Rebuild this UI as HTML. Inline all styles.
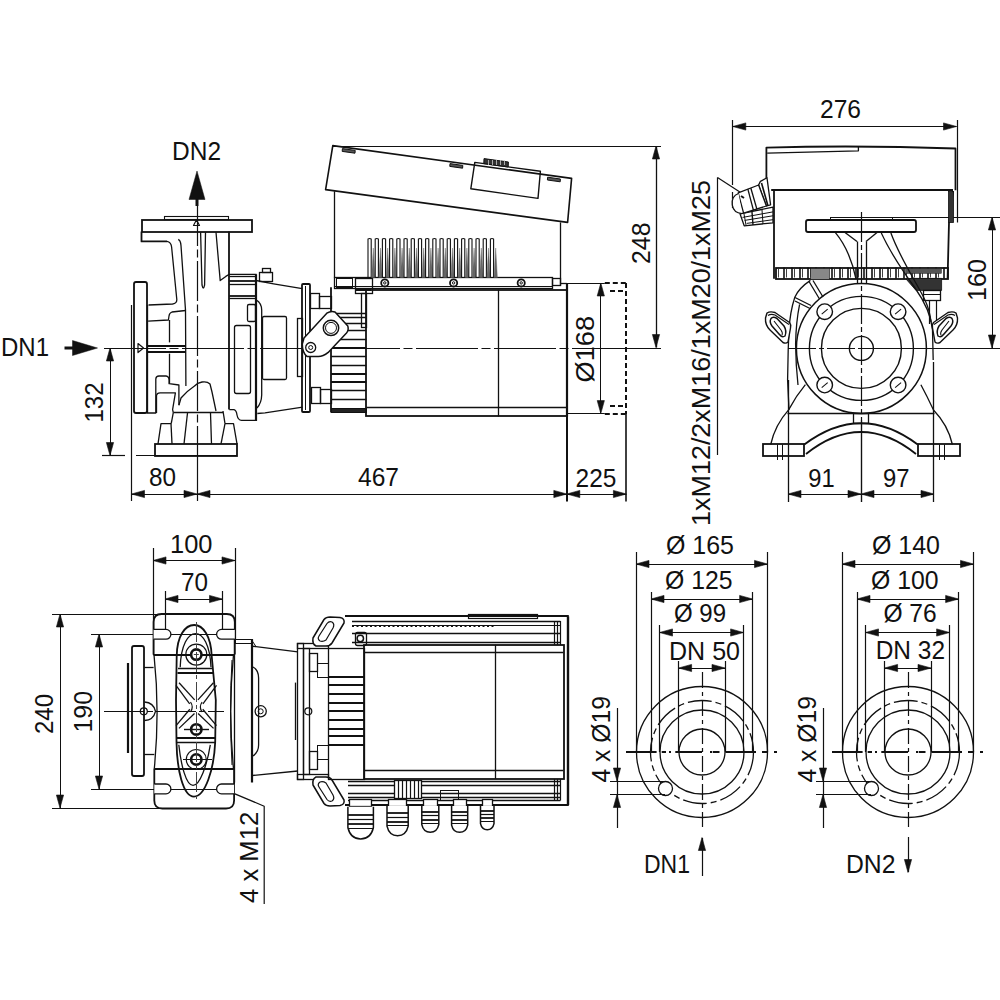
<!DOCTYPE html>
<html><head><meta charset="utf-8"><style>
html,body{margin:0;padding:0;background:#fff;}
svg{display:block;}
text{font-family:"Liberation Sans",sans-serif;fill:#111;}
</style></head><body>
<svg width="1000" height="1000" viewBox="0 0 1000 1000">
<rect width="1000" height="1000" fill="#fff"/>
<text x="172" y="159.5" font-size="26" textLength="49" lengthAdjust="spacingAndGlyphs">DN2</text>
<polygon points="197,171 189,199.5 205,199.5" fill="#111" stroke="#111" stroke-width="0.5" stroke-linejoin="round"/>
<line x1="197" y1="199" x2="197" y2="206" stroke="#111" stroke-width="3"/>
<text x="1" y="356" font-size="26" textLength="48" lengthAdjust="spacingAndGlyphs">DN1</text>
<polygon points="97.5,348 72.5,340.5 72.5,355.5" fill="#111" stroke="#111" stroke-width="0.5" stroke-linejoin="round"/>
<line x1="64.5" y1="348" x2="73" y2="348" stroke="#111" stroke-width="3"/>
<line x1="104" y1="348.5" x2="661" y2="348.5" stroke="#111" stroke-width="1.2" stroke-dasharray="62 3.5 9 3.5"/>
<line x1="197.5" y1="206" x2="197.5" y2="455" stroke="#111" stroke-width="1.2" stroke-dasharray="40 3.5 8 3.5"/>
<line x1="197.5" y1="455" x2="197.5" y2="501" stroke="#111" stroke-width="1.2"/>
<line x1="110.5" y1="348" x2="110.5" y2="455.5" stroke="#111" stroke-width="1.0"/>
<polygon points="110,348 106.4,361 113.6,361" fill="#111" stroke="#111" stroke-width="0.6"/>
<polygon points="110,455.5 106.4,442.5 113.6,442.5" fill="#111" stroke="#111" stroke-width="0.6"/>
<text transform="translate(102.5,422.5) rotate(-90)" x="0" y="0" font-size="26" textLength="40" lengthAdjust="spacingAndGlyphs">132</text>
<line x1="102" y1="455.5" x2="125" y2="455.5" stroke="#111" stroke-width="1.2"/>
<line x1="136" y1="455.5" x2="237" y2="455.5" stroke="#111" stroke-width="1.2"/>
<line x1="131.5" y1="440" x2="131.5" y2="501" stroke="#111" stroke-width="1.2"/>
<line x1="131.5" y1="494.5" x2="197" y2="494.5" stroke="#111" stroke-width="1.0"/>
<polygon points="131.5,494 144.5,490.4 144.5,497.6" fill="#111" stroke="#111" stroke-width="0.6"/>
<polygon points="197,494 184,490.4 184,497.6" fill="#111" stroke="#111" stroke-width="0.6"/>
<text x="149" y="486" font-size="26" textLength="27" lengthAdjust="spacingAndGlyphs">80</text>
<line x1="197" y1="494.5" x2="566.8" y2="494.5" stroke="#111" stroke-width="1.0"/>
<polygon points="197,494 210,490.4 210,497.6" fill="#111" stroke="#111" stroke-width="0.6"/>
<polygon points="566.8,494 553.8,490.4 553.8,497.6" fill="#111" stroke="#111" stroke-width="0.6"/>
<text x="358" y="486" font-size="26" textLength="41" lengthAdjust="spacingAndGlyphs">467</text>
<line x1="566.8" y1="494.5" x2="626.4" y2="494.5" stroke="#111" stroke-width="1.0"/>
<polygon points="566.8,494 579.8,490.4 579.8,497.6" fill="#111" stroke="#111" stroke-width="0.6"/>
<polygon points="626.4,494 613.4,490.4 613.4,497.6" fill="#111" stroke="#111" stroke-width="0.6"/>
<text x="575.6" y="486.8" font-size="26" textLength="40.8" lengthAdjust="spacingAndGlyphs">225</text>
<line x1="567" y1="283" x2="567" y2="501.6" stroke="#111" stroke-width="2"/>
<line x1="626" y1="414" x2="626" y2="501.6" stroke="#111" stroke-width="1.6"/>
<line x1="626" y1="283" x2="626" y2="414" stroke="#111" stroke-width="2" stroke-dasharray="5 3"/>
<line x1="332.8" y1="146.5" x2="661" y2="146.5" stroke="#111" stroke-width="1.2"/>
<line x1="656.5" y1="146" x2="656.5" y2="347.5" stroke="#111" stroke-width="1.3"/>
<polygon points="656,146 652.4,159 659.6,159" fill="#111" stroke="#111" stroke-width="0.6"/>
<polygon points="656,347.5 652.4,334.5 659.6,334.5" fill="#111" stroke="#111" stroke-width="0.6"/>
<text transform="translate(650,264) rotate(-90)" x="0" y="0" font-size="26" textLength="41.5" lengthAdjust="spacingAndGlyphs">248</text>
<line x1="623" y1="348.5" x2="661" y2="348.5" stroke="#111" stroke-width="1.2"/>
<line x1="600.5" y1="283" x2="600.5" y2="413.6" stroke="#111" stroke-width="1.0"/>
<polygon points="600.8,283 597.2,296 604.4,296" fill="#111" stroke="#111" stroke-width="0.6"/>
<polygon points="600.8,413.6 597.2,400.6 604.4,400.6" fill="#111" stroke="#111" stroke-width="0.6"/>
<text transform="translate(594.4,382.4) rotate(-90)" x="0" y="0" font-size="26" textLength="66.4" lengthAdjust="spacingAndGlyphs">Ø168</text>
<line x1="566.8" y1="283.5" x2="604.8" y2="283.5" stroke="#111" stroke-width="1.2"/>
<line x1="604.8" y1="283" x2="626.4" y2="283" stroke="#111" stroke-width="2" stroke-dasharray="5 3"/>
<line x1="610" y1="291" x2="626" y2="291" stroke="#111" stroke-width="2" stroke-dasharray="5 3"/>
<line x1="566.8" y1="413.5" x2="604.8" y2="413.5" stroke="#111" stroke-width="1.2"/>
<line x1="604.8" y1="414" x2="626.4" y2="414" stroke="#111" stroke-width="2" stroke-dasharray="5 3"/>
<line x1="610" y1="406" x2="626" y2="406" stroke="#111" stroke-width="2" stroke-dasharray="5 3"/>
<text x="820" y="118" font-size="26" textLength="41" lengthAdjust="spacingAndGlyphs">276</text>
<line x1="732.8" y1="126.5" x2="956.5" y2="126.5" stroke="#111" stroke-width="1.0"/>
<polygon points="732.8,126.5 745.8,122.9 745.8,130.1" fill="#111" stroke="#111" stroke-width="0.6"/>
<polygon points="956.5,126.5 943.5,122.9 943.5,130.1" fill="#111" stroke="#111" stroke-width="0.6"/>
<line x1="732.5" y1="120" x2="732.5" y2="185" stroke="#111" stroke-width="1.2"/>
<line x1="732.5" y1="192" x2="732.5" y2="208" stroke="#111" stroke-width="1.2"/>
<line x1="957.5" y1="120" x2="957.5" y2="222.5" stroke="#111" stroke-width="1.2"/>
<line x1="992.5" y1="217" x2="992.5" y2="348" stroke="#111" stroke-width="1.0"/>
<polygon points="992,217 988.4,230 995.6,230" fill="#111" stroke="#111" stroke-width="0.6"/>
<polygon points="992,348 988.4,335 995.6,335" fill="#111" stroke="#111" stroke-width="0.6"/>
<text transform="translate(986,301) rotate(-90)" x="0" y="0" font-size="26" textLength="42" lengthAdjust="spacingAndGlyphs">160</text>
<line x1="862" y1="348.5" x2="1000" y2="348.5" stroke="#111" stroke-width="1.2"/>
<line x1="830" y1="217.5" x2="1000" y2="217.5" stroke="#111" stroke-width="1.2"/>
<line x1="788" y1="494.5" x2="861" y2="494.5" stroke="#111" stroke-width="1.0"/>
<polygon points="788,494 801,490.4 801,497.6" fill="#111" stroke="#111" stroke-width="0.6"/>
<polygon points="861,494 848,490.4 848,497.6" fill="#111" stroke="#111" stroke-width="0.6"/>
<text x="808.3" y="486.6" font-size="26" textLength="26.4" lengthAdjust="spacingAndGlyphs">91</text>
<line x1="861" y1="494.5" x2="934" y2="494.5" stroke="#111" stroke-width="1.0"/>
<polygon points="861,494 874,490.4 874,497.6" fill="#111" stroke="#111" stroke-width="0.6"/>
<polygon points="934,494 921,490.4 921,497.6" fill="#111" stroke="#111" stroke-width="0.6"/>
<text x="883" y="486.6" font-size="26" textLength="26.5" lengthAdjust="spacingAndGlyphs">97</text>
<line x1="788.5" y1="380" x2="788.5" y2="502" stroke="#111" stroke-width="1.3"/>
<line x1="861.5" y1="420" x2="861.5" y2="502" stroke="#111" stroke-width="1.2"/>
<line x1="933.5" y1="362" x2="933.5" y2="502" stroke="#111" stroke-width="1.3"/>
<text transform="translate(710,526) rotate(-90)" x="0" y="0" font-size="26" textLength="346" lengthAdjust="spacingAndGlyphs">1xM12/2xM16/1xM20/1xM25</text>
<line x1="717.5" y1="177.5" x2="717.5" y2="455" stroke="#111" stroke-width="1.2"/>
<line x1="717.5" y1="177.5" x2="746" y2="196" stroke="#111" stroke-width="1.2"/>
<text x="170" y="552.5" font-size="26" textLength="42.5" lengthAdjust="spacingAndGlyphs">100</text>
<line x1="153" y1="560.5" x2="235" y2="560.5" stroke="#111" stroke-width="1.0"/>
<polygon points="153,560.5 166,556.9 166,564.1" fill="#111" stroke="#111" stroke-width="0.6"/>
<polygon points="235,560.5 222,556.9 222,564.1" fill="#111" stroke="#111" stroke-width="0.6"/>
<line x1="153.5" y1="548" x2="153.5" y2="655" stroke="#111" stroke-width="1.2"/>
<line x1="235.5" y1="548" x2="235.5" y2="640" stroke="#111" stroke-width="1.2"/>
<text x="181" y="591" font-size="26" textLength="27" lengthAdjust="spacingAndGlyphs">70</text>
<line x1="165" y1="599.5" x2="222.5" y2="599.5" stroke="#111" stroke-width="1.0"/>
<polygon points="165,599 178,595.4 178,602.6" fill="#111" stroke="#111" stroke-width="0.6"/>
<polygon points="222.5,599 209.5,595.4 209.5,602.6" fill="#111" stroke="#111" stroke-width="0.6"/>
<line x1="165.5" y1="591" x2="165.5" y2="635" stroke="#111" stroke-width="1.2"/>
<line x1="222.5" y1="591" x2="222.5" y2="635" stroke="#111" stroke-width="1.2"/>
<line x1="60.5" y1="614" x2="60.5" y2="808" stroke="#111" stroke-width="1.0"/>
<polygon points="60,614 56.4,627 63.6,627" fill="#111" stroke="#111" stroke-width="0.6"/>
<polygon points="60,808 56.4,795 63.6,795" fill="#111" stroke="#111" stroke-width="0.6"/>
<text transform="translate(53,734) rotate(-90)" x="0" y="0" font-size="26" textLength="40" lengthAdjust="spacingAndGlyphs">240</text>
<line x1="52" y1="614.5" x2="230" y2="614.5" stroke="#111" stroke-width="1.2"/>
<line x1="52" y1="808.5" x2="160" y2="808.5" stroke="#111" stroke-width="1.2"/>
<line x1="99.5" y1="634" x2="99.5" y2="789" stroke="#111" stroke-width="1.0"/>
<polygon points="99,634 95.4,647 102.6,647" fill="#111" stroke="#111" stroke-width="0.6"/>
<polygon points="99,789 95.4,776 102.6,776" fill="#111" stroke="#111" stroke-width="0.6"/>
<text transform="translate(91.5,732.5) rotate(-90)" x="0" y="0" font-size="26" textLength="41.5" lengthAdjust="spacingAndGlyphs">190</text>
<line x1="91" y1="634.5" x2="230" y2="634.5" stroke="#111" stroke-width="1.2"/>
<line x1="91" y1="789.5" x2="230" y2="789.5" stroke="#111" stroke-width="1.2"/>
<polyline points="222.4,788.6 264.2,806.2 264.2,904" fill="none" stroke="#111" stroke-width="1.2" stroke-linejoin="round"/>
<text transform="translate(257.6,903) rotate(-90)" x="0" y="0" font-size="26" textLength="91.3" lengthAdjust="spacingAndGlyphs">4 x M12</text>
<text x="666" y="554" font-size="26" textLength="68" lengthAdjust="spacingAndGlyphs">Ø 165</text>
<line x1="636" y1="564.5" x2="767.5" y2="564.5" stroke="#111" stroke-width="1.0"/>
<polygon points="636,564 649,560.4 649,567.6" fill="#111" stroke="#111" stroke-width="0.6"/>
<polygon points="767.5,564 754.5,560.4 754.5,567.6" fill="#111" stroke="#111" stroke-width="0.6"/>
<text x="665" y="589" font-size="26" textLength="67.5" lengthAdjust="spacingAndGlyphs">Ø 125</text>
<line x1="651" y1="599.5" x2="752.6" y2="599.5" stroke="#111" stroke-width="1.0"/>
<polygon points="651,599 664,595.4 664,602.6" fill="#111" stroke="#111" stroke-width="0.6"/>
<polygon points="752.6,599 739.6,595.4 739.6,602.6" fill="#111" stroke="#111" stroke-width="0.6"/>
<text x="674" y="622" font-size="26" textLength="52" lengthAdjust="spacingAndGlyphs">Ø 99</text>
<line x1="659.5" y1="632.5" x2="743.6" y2="632.5" stroke="#111" stroke-width="1.0"/>
<polygon points="659.5,632.5 672.5,628.9 672.5,636.1" fill="#111" stroke="#111" stroke-width="0.6"/>
<polygon points="743.6,632.5 730.6,628.9 730.6,636.1" fill="#111" stroke="#111" stroke-width="0.6"/>
<text x="669" y="659.5" font-size="26" textLength="71" lengthAdjust="spacingAndGlyphs">DN 50</text>
<line x1="678.6" y1="668.5" x2="725" y2="668.5" stroke="#111" stroke-width="1.0"/>
<polygon points="678.6,668 691.6,664.4 691.6,671.6" fill="#111" stroke="#111" stroke-width="0.6"/>
<polygon points="725,668 712,664.4 712,671.6" fill="#111" stroke="#111" stroke-width="0.6"/>
<line x1="636.5" y1="552" x2="636.5" y2="752" stroke="#111" stroke-width="1.2"/>
<line x1="767.5" y1="552" x2="767.5" y2="752" stroke="#111" stroke-width="1.2"/>
<line x1="651.5" y1="592" x2="651.5" y2="752" stroke="#111" stroke-width="1.2"/>
<line x1="752.5" y1="592" x2="752.5" y2="752" stroke="#111" stroke-width="1.2"/>
<line x1="659.5" y1="625" x2="659.5" y2="752" stroke="#111" stroke-width="1.2"/>
<line x1="743.5" y1="625" x2="743.5" y2="752" stroke="#111" stroke-width="1.2"/>
<line x1="678.5" y1="661" x2="678.5" y2="752" stroke="#111" stroke-width="1.2"/>
<line x1="725.5" y1="661" x2="725.5" y2="752" stroke="#111" stroke-width="1.2"/>
<circle cx="702" cy="752" r="65.5" fill="none" stroke="#111" stroke-width="1.3"/>
<circle cx="702" cy="752" r="51.5" fill="none" stroke="#111" stroke-width="1.3" stroke-dasharray="24 4 6 4"/>
<circle cx="702" cy="752" r="42" fill="none" stroke="#111" stroke-width="1.3"/>
<circle cx="702" cy="752" r="23" fill="none" stroke="#111" stroke-width="1.3"/>
<circle cx="665.5" cy="788.5" r="7" fill="#fff" stroke="#111" stroke-width="1.3"/>
<line x1="626" y1="752" x2="656.6" y2="752" stroke="#111" stroke-width="2.0"/>
<line x1="661.7" y1="752" x2="666" y2="752" stroke="#111" stroke-width="2.0"/>
<line x1="669" y1="752" x2="671" y2="752" stroke="#111" stroke-width="2.0"/>
<line x1="675.3" y1="752" x2="702" y2="752" stroke="#111" stroke-width="2.0"/>
<line x1="702" y1="752" x2="701.9" y2="752" stroke="#111" stroke-width="2.0"/>
<line x1="710" y1="752" x2="712" y2="752" stroke="#111" stroke-width="2.0"/>
<line x1="712.7" y1="752" x2="719.5" y2="752" stroke="#111" stroke-width="2.0"/>
<line x1="725.4" y1="752" x2="756" y2="752" stroke="#111" stroke-width="2.0"/>
<line x1="762" y1="752" x2="768" y2="752" stroke="#111" stroke-width="2.0"/>
<line x1="774" y1="752" x2="777" y2="752" stroke="#111" stroke-width="2.0"/>
<line x1="702.5" y1="672" x2="702.5" y2="827" stroke="#111" stroke-width="1.2" stroke-dasharray="16 4 4 4"/>
<line x1="617.5" y1="708" x2="617.5" y2="828" stroke="#111" stroke-width="1.2"/>
<polygon points="617,781 613.4,768 620.6,768" fill="#111" stroke="#111" stroke-width="0.6"/>
<polygon points="617,794.5 613.4,807.5 620.6,807.5" fill="#111" stroke="#111" stroke-width="0.6"/>
<line x1="610" y1="781.5" x2="665" y2="781.5" stroke="#111" stroke-width="1.2"/>
<line x1="610" y1="794.5" x2="665" y2="794.5" stroke="#111" stroke-width="1.2"/>
<text transform="translate(610,782.5) rotate(-90)" x="0" y="0" font-size="26" textLength="86.5" lengthAdjust="spacingAndGlyphs">4 x Ø19</text>
<text x="872" y="554" font-size="26" textLength="68" lengthAdjust="spacingAndGlyphs">Ø 140</text>
<line x1="842" y1="564.5" x2="973.5" y2="564.5" stroke="#111" stroke-width="1.0"/>
<polygon points="842,564 855,560.4 855,567.6" fill="#111" stroke="#111" stroke-width="0.6"/>
<polygon points="973.5,564 960.5,560.4 960.5,567.6" fill="#111" stroke="#111" stroke-width="0.6"/>
<text x="871" y="589" font-size="26" textLength="67.5" lengthAdjust="spacingAndGlyphs">Ø 100</text>
<line x1="857" y1="599.5" x2="958.6" y2="599.5" stroke="#111" stroke-width="1.0"/>
<polygon points="857,599 870,595.4 870,602.6" fill="#111" stroke="#111" stroke-width="0.6"/>
<polygon points="958.6,599 945.6,595.4 945.6,602.6" fill="#111" stroke="#111" stroke-width="0.6"/>
<text x="883.4" y="622.3" font-size="26" textLength="53.3" lengthAdjust="spacingAndGlyphs">Ø 76</text>
<line x1="865.5" y1="632.5" x2="949.6" y2="632.5" stroke="#111" stroke-width="1.0"/>
<polygon points="865.5,632.5 878.5,628.9 878.5,636.1" fill="#111" stroke="#111" stroke-width="0.6"/>
<polygon points="949.6,632.5 936.6,628.9 936.6,636.1" fill="#111" stroke="#111" stroke-width="0.6"/>
<text x="875.7" y="659" font-size="26" textLength="69.3" lengthAdjust="spacingAndGlyphs">DN 32</text>
<line x1="884.6" y1="668.5" x2="931" y2="668.5" stroke="#111" stroke-width="1.0"/>
<polygon points="884.6,668 897.6,664.4 897.6,671.6" fill="#111" stroke="#111" stroke-width="0.6"/>
<polygon points="931,668 918,664.4 918,671.6" fill="#111" stroke="#111" stroke-width="0.6"/>
<line x1="842.5" y1="552" x2="842.5" y2="752" stroke="#111" stroke-width="1.2"/>
<line x1="973.5" y1="552" x2="973.5" y2="752" stroke="#111" stroke-width="1.2"/>
<line x1="857.5" y1="592" x2="857.5" y2="752" stroke="#111" stroke-width="1.2"/>
<line x1="958.5" y1="592" x2="958.5" y2="752" stroke="#111" stroke-width="1.2"/>
<line x1="865.5" y1="625" x2="865.5" y2="752" stroke="#111" stroke-width="1.2"/>
<line x1="949.5" y1="625" x2="949.5" y2="752" stroke="#111" stroke-width="1.2"/>
<line x1="884.5" y1="661" x2="884.5" y2="752" stroke="#111" stroke-width="1.2"/>
<line x1="931.5" y1="661" x2="931.5" y2="752" stroke="#111" stroke-width="1.2"/>
<circle cx="908" cy="752" r="65.5" fill="none" stroke="#111" stroke-width="1.3"/>
<circle cx="908" cy="752" r="51.5" fill="none" stroke="#111" stroke-width="1.3" stroke-dasharray="24 4 6 4"/>
<circle cx="908" cy="752" r="42" fill="none" stroke="#111" stroke-width="1.3"/>
<circle cx="908" cy="752" r="23" fill="none" stroke="#111" stroke-width="1.3"/>
<circle cx="871.5" cy="788.5" r="7" fill="#fff" stroke="#111" stroke-width="1.3"/>
<line x1="832" y1="752" x2="862.6" y2="752" stroke="#111" stroke-width="2.0"/>
<line x1="867.7" y1="752" x2="872" y2="752" stroke="#111" stroke-width="2.0"/>
<line x1="875" y1="752" x2="877" y2="752" stroke="#111" stroke-width="2.0"/>
<line x1="881.3" y1="752" x2="908" y2="752" stroke="#111" stroke-width="2.0"/>
<line x1="908" y1="752" x2="907.9" y2="752" stroke="#111" stroke-width="2.0"/>
<line x1="916" y1="752" x2="918" y2="752" stroke="#111" stroke-width="2.0"/>
<line x1="918.7" y1="752" x2="925.5" y2="752" stroke="#111" stroke-width="2.0"/>
<line x1="931.4" y1="752" x2="962" y2="752" stroke="#111" stroke-width="2.0"/>
<line x1="968" y1="752" x2="974" y2="752" stroke="#111" stroke-width="2.0"/>
<line x1="980" y1="752" x2="983" y2="752" stroke="#111" stroke-width="2.0"/>
<line x1="908.5" y1="672" x2="908.5" y2="827" stroke="#111" stroke-width="1.2" stroke-dasharray="16 4 4 4"/>
<line x1="823.5" y1="708" x2="823.5" y2="828" stroke="#111" stroke-width="1.2"/>
<polygon points="823,781 819.4,768 826.6,768" fill="#111" stroke="#111" stroke-width="0.6"/>
<polygon points="823,794.5 819.4,807.5 826.6,807.5" fill="#111" stroke="#111" stroke-width="0.6"/>
<line x1="816" y1="781.5" x2="871" y2="781.5" stroke="#111" stroke-width="1.2"/>
<line x1="816" y1="794.5" x2="871" y2="794.5" stroke="#111" stroke-width="1.2"/>
<text transform="translate(816,782.5) rotate(-90)" x="0" y="0" font-size="26" textLength="86.5" lengthAdjust="spacingAndGlyphs">4 x Ø19</text>
<line x1="702.5" y1="838" x2="702.5" y2="876" stroke="#111" stroke-width="1.2"/>
<polygon points="702,837.5 698.4,850.5 705.6,850.5" fill="#111" stroke="#111" stroke-width="0.6"/>
<text x="644" y="873" font-size="26" textLength="46" lengthAdjust="spacingAndGlyphs">DN1</text>
<line x1="908.5" y1="837" x2="908.5" y2="872" stroke="#111" stroke-width="1.2"/>
<polygon points="908,872.5 904.4,859.5 911.6,859.5" fill="#111" stroke="#111" stroke-width="0.6"/>
<text x="846" y="873" font-size="26" textLength="49.5" lengthAdjust="spacingAndGlyphs">DN2</text>
<rect x="142" y="220" width="110" height="12" fill="none" stroke="#111" stroke-width="1.8"/>
<rect x="164.5" y="216.5" width="64" height="3" fill="none" stroke="#111" stroke-width="1.1"/>
<polyline points="141.5,231.6 141.5,241.4 167,241.4" fill="none" stroke="#111" stroke-width="1.8" stroke-linejoin="round"/>
<path d="M167,241.4 Q171,242 171.6,247 L176.8,299.5 Q177,303.5 172.6,304 L148.5,305" fill="none" stroke="#111" stroke-width="1.3" stroke-linejoin="round"/>
<path d="M178.2,239.5 Q180.5,240 181,245.6 L185.5,310 L185.9,386" fill="none" stroke="#111" stroke-width="1.3" stroke-linejoin="round"/>
<path d="M185.5,310.5 L172,312 Q169.3,313 169,316 L168.4,320 L148.1,321.2" fill="none" stroke="#111" stroke-width="1.3" stroke-linejoin="round"/>
<line x1="169.5" y1="320" x2="169.5" y2="342.4" stroke="#111" stroke-width="1.3"/>
<line x1="169.5" y1="353.6" x2="169.5" y2="383.7" stroke="#111" stroke-width="1.3"/>
<path d="M200.6,232.3 L202,285 Q203.3,291 204.6,285 L205.5,232.3" fill="none" stroke="#111" stroke-width="1.3" stroke-linejoin="round"/>
<path d="M216,232.3 L220.2,280.6 L225.8,276.4 L229.3,274.3 L256.6,274.3" fill="none" stroke="#111" stroke-width="1.3" stroke-linejoin="round"/>
<line x1="229" y1="231.6" x2="229" y2="409.6" stroke="#111" stroke-width="1.8"/>
<rect x="134" y="282" width="13" height="131" rx="2" fill="none" stroke="#111" stroke-width="1.8"/>
<line x1="147.5" y1="305" x2="147.5" y2="413" stroke="#111" stroke-width="1.3"/>
<line x1="147.4" y1="346" x2="185.9" y2="346" stroke="#111" stroke-width="1.8"/>
<line x1="147.4" y1="352" x2="185.9" y2="352" stroke="#111" stroke-width="1.8"/>
<polygon points="138,343.5 143.5,348 138,352.5" fill="none" stroke="#111" stroke-width="1.2" stroke-linejoin="round"/>
<polygon points="193.5,225.5 196.5,219.8 199.5,225.5" fill="none" stroke="#111" stroke-width="1.2" stroke-linejoin="round"/>
<path d="M146.7,413 L155.8,413 L155.8,379 Q156,376 159,376 L166,376 Q169,376.5 169.1,380 L169.1,383.7 L178.9,385 L178.9,405" fill="none" stroke="#111" stroke-width="1.3" stroke-linejoin="round"/>
<path d="M156.5,413 L156.5,395.5 Q157,392.8 160,392.8 L175.4,392.8 L172.6,409.6 L173.3,412.7" fill="none" stroke="#111" stroke-width="1.3" stroke-linejoin="round"/>
<path d="M178.9,405.4 L181,398 C186,392 190,389 194.5,386 C198,382 206,380 210,384 L212,392 L216,411" fill="none" stroke="#111" stroke-width="1.3" stroke-linejoin="round"/>
<line x1="173.3" y1="412.5" x2="223" y2="412.5" stroke="#111" stroke-width="1.3"/>
<rect x="155" y="444" width="82" height="12" fill="none" stroke="#111" stroke-width="1.8"/>
<line x1="172" y1="443.9" x2="171" y2="423.6" stroke="#111" stroke-width="1.3"/>
<line x1="184" y1="443.9" x2="187.5" y2="413" stroke="#111" stroke-width="1.3"/>
<line x1="211.5" y1="443.9" x2="210.5" y2="413" stroke="#111" stroke-width="1.3"/>
<line x1="221" y1="443.9" x2="225" y2="423.6" stroke="#111" stroke-width="1.3"/>
<polyline points="158,443.9 161,423.6 171.2,423.6" fill="none" stroke="#111" stroke-width="1.3" stroke-linejoin="round"/>
<polyline points="225,423.6 233.5,423.6 237,443.9" fill="none" stroke="#111" stroke-width="1.3" stroke-linejoin="round"/>
<line x1="171.2" y1="423.6" x2="173.3" y2="412.7" stroke="#111" stroke-width="1.3"/>
<line x1="223" y1="411" x2="225" y2="423.6" stroke="#111" stroke-width="1.3"/>
<line x1="131.5" y1="305" x2="131.5" y2="440" stroke="#111" stroke-width="1.2"/>
<path d="M229.3,409.6 L234,409.6 Q236.5,410.5 237,415 Q238,420.3 241.5,420.3 L257,420.3" fill="none" stroke="#111" stroke-width="1.3" stroke-linejoin="round"/>
<line x1="256" y1="274.3" x2="256" y2="420.8" stroke="#111" stroke-width="2.2"/>
<line x1="229.3" y1="276.5" x2="256.1" y2="276.5" stroke="#111" stroke-width="1.3"/>
<line x1="229.3" y1="281" x2="256.1" y2="281" stroke="#111" stroke-width="1.8"/>
<line x1="229.3" y1="284.5" x2="256.1" y2="284.5" stroke="#111" stroke-width="1.3"/>
<line x1="229.3" y1="296" x2="256.1" y2="296" stroke="#111" stroke-width="1.8"/>
<line x1="229.3" y1="298.5" x2="256.1" y2="298.5" stroke="#111" stroke-width="1.3"/>
<rect x="234.5" y="325.5" width="16" height="68" rx="2" fill="none" stroke="#111" stroke-width="1.3"/>
<rect x="247.5" y="304.5" width="8" height="17" rx="1.5" fill="none" stroke="#111" stroke-width="1.3"/>
<rect x="259.5" y="272.5" width="13" height="9" fill="none" stroke="#111" stroke-width="1.3"/>
<rect x="262.5" y="268.5" width="8" height="4" fill="none" stroke="#111" stroke-width="1.3"/>
<polyline points="256.1,280.5 273.6,283.8 302.3,288.7" fill="none" stroke="#111" stroke-width="1.3" stroke-linejoin="round"/>
<polyline points="257.3,413.5 265,412.8 302.6,407.2" fill="none" stroke="#111" stroke-width="1.3" stroke-linejoin="round"/>
<path d="M256.3,300 Q261.5,303 261.7,310 L261.7,395 Q261.5,403 257,408" fill="none" stroke="#111" stroke-width="1.3" stroke-linejoin="round"/>
<rect x="262.5" y="316.5" width="24" height="63" rx="1.5" fill="none" stroke="#111" stroke-width="1.3"/>
<rect x="302" y="284" width="8" height="128" rx="1" fill="none" stroke="#111" stroke-width="1.8"/>
<line x1="305.5" y1="286" x2="305.5" y2="410" stroke="#111" stroke-width="1.0"/>
<rect x="297.5" y="318.5" width="5" height="58" fill="none" stroke="#111" stroke-width="1.3"/>
<rect x="310.5" y="293.5" width="9" height="15" fill="none" stroke="#111" stroke-width="1.3"/>
<rect x="311.5" y="387.5" width="9" height="16" fill="none" stroke="#111" stroke-width="1.3"/>
<rect x="319.5" y="296.5" width="12" height="12" fill="none" stroke="#111" stroke-width="1.3"/>
<rect x="320.5" y="389.5" width="11" height="14" fill="none" stroke="#111" stroke-width="1.3"/>
<line x1="331" y1="287.3" x2="331" y2="412.5" stroke="#111" stroke-width="1.8"/>
<line x1="331" y1="313.5" x2="366.3" y2="313.5" stroke="#111" stroke-width="1.4"/>
<line x1="331" y1="317.5" x2="366.3" y2="317.5" stroke="#111" stroke-width="1.4"/>
<line x1="331" y1="323.5" x2="366.3" y2="323.5" stroke="#111" stroke-width="1.4"/>
<line x1="331" y1="330.5" x2="366.3" y2="330.5" stroke="#111" stroke-width="1.4"/>
<line x1="331" y1="339.5" x2="366.3" y2="339.5" stroke="#111" stroke-width="1.4"/>
<line x1="331" y1="348" x2="366.3" y2="348" stroke="#111" stroke-width="1.8"/>
<line x1="331" y1="356.5" x2="366.3" y2="356.5" stroke="#111" stroke-width="1.4"/>
<line x1="331" y1="365.5" x2="366.3" y2="365.5" stroke="#111" stroke-width="1.4"/>
<line x1="331" y1="374" x2="366.3" y2="374" stroke="#111" stroke-width="1.8"/>
<line x1="331" y1="382" x2="366.3" y2="382" stroke="#111" stroke-width="1.8"/>
<line x1="331" y1="390.5" x2="366.3" y2="390.5" stroke="#111" stroke-width="1.4"/>
<line x1="331" y1="399.5" x2="366.3" y2="399.5" stroke="#111" stroke-width="1.4"/>
<rect x="331.5" y="408.5" width="35" height="4" fill="#222" stroke="#111" stroke-width="1"/>
<path d="M302.3,344 L304,338 L326.8,313.2 Q331,310.5 335,312 L347.8,326 Q349,330 346.5,333 L328.2,352.4 Q323,356.6 318.4,356.6 L307.2,356.6 Q302.3,353 302.3,344 Z" fill="#fff" stroke="#111" stroke-width="1.5" stroke-linejoin="round"/>
<circle cx="331" cy="327.9" r="7.7" fill="none" stroke="#111" stroke-width="1.5"/>
<circle cx="331" cy="327.9" r="5.5" fill="none" stroke="#111" stroke-width="1.0"/>
<circle cx="310.7" cy="347.5" r="5" fill="none" stroke="#111" stroke-width="1.3"/>
<circle cx="310.7" cy="347.5" r="2" fill="none" stroke="#111" stroke-width="1.0"/>
<rect x="366" y="290" width="201" height="126" fill="none" stroke="#111" stroke-width="1.8"/>
<line x1="366.3" y1="407.5" x2="566.8" y2="407.5" stroke="#111" stroke-width="1.3"/>
<line x1="498.5" y1="289.7" x2="498.5" y2="416.5" stroke="#111" stroke-width="1.3"/>
<line x1="567" y1="283" x2="567" y2="416.5" stroke="#111" stroke-width="2.2"/>
<line x1="560.4" y1="283.5" x2="566.8" y2="283.5" stroke="#111" stroke-width="1.3"/>
<line x1="334.5" y1="191.2" x2="334.5" y2="277.6" stroke="#111" stroke-width="1.3"/>
<line x1="560.5" y1="222.4" x2="560.5" y2="285.6" stroke="#111" stroke-width="1.3"/>
<rect x="334.5" y="277.5" width="218" height="11" fill="none" stroke="#111" stroke-width="1.3"/>
<line x1="334.7" y1="286.5" x2="552.4" y2="286.5" stroke="#111" stroke-width="1.0"/>
<rect x="552.5" y="278.5" width="8" height="7" fill="none" stroke="#111" stroke-width="1.3"/>
<rect x="336.5" y="278.5" width="16" height="9" fill="none" stroke="#111" stroke-width="1.0"/>
<rect x="355.5" y="278.5" width="17" height="15" fill="none" stroke="#111" stroke-width="1.3"/>
<rect x="361.5" y="293.5" width="5" height="34" fill="none" stroke="#111" stroke-width="1.3"/>
<line x1="356" y1="290" x2="371" y2="290" stroke="#111" stroke-width="2"/>
<circle cx="384.8" cy="282.9" r="3.6" fill="#fff" stroke="#111" stroke-width="1.8"/>
<circle cx="384.8" cy="282.9" r="1.2" fill="none" stroke="#111" stroke-width="1.0"/>
<circle cx="453.6" cy="282.9" r="3.6" fill="#fff" stroke="#111" stroke-width="1.8"/>
<circle cx="453.6" cy="282.9" r="1.2" fill="none" stroke="#111" stroke-width="1.0"/>
<circle cx="521.2" cy="282.9" r="3.6" fill="#fff" stroke="#111" stroke-width="1.8"/>
<circle cx="521.2" cy="282.9" r="1.2" fill="none" stroke="#111" stroke-width="1.0"/>
<line x1="390" y1="289" x2="420" y2="289" stroke="#111" stroke-width="1.6"/>
<path d="M368.0,277.6 L368.0,239 Q369.6,238 371.2,239 L371.2,277.6" fill="none" stroke="#111" stroke-width="1.1" stroke-linejoin="round"/>
<polygon points="371.6,277.6 375,277.6 373.3,248" fill="#666" stroke="#666" stroke-width="0.4" stroke-linejoin="round"/>
<path d="M375.2,277.6 L375.2,239 Q376.8,238 378.4,239 L378.4,277.6" fill="none" stroke="#111" stroke-width="1.1" stroke-linejoin="round"/>
<polygon points="378.8,277.6 382.2,277.6 380.5,248" fill="#666" stroke="#666" stroke-width="0.4" stroke-linejoin="round"/>
<path d="M382.4,277.6 L382.4,239 Q384.0,238 385.6,239 L385.6,277.6" fill="none" stroke="#111" stroke-width="1.1" stroke-linejoin="round"/>
<polygon points="386,277.6 389.4,277.6 387.7,248" fill="#666" stroke="#666" stroke-width="0.4" stroke-linejoin="round"/>
<path d="M389.6,277.6 L389.6,239 Q391.2,238 392.8,239 L392.8,277.6" fill="none" stroke="#111" stroke-width="1.1" stroke-linejoin="round"/>
<polygon points="393.2,277.6 396.6,277.6 394.9,248" fill="#666" stroke="#666" stroke-width="0.4" stroke-linejoin="round"/>
<path d="M396.8,277.6 L396.8,239 Q398.4,238 400.0,239 L400.0,277.6" fill="none" stroke="#111" stroke-width="1.1" stroke-linejoin="round"/>
<polygon points="400.4,277.6 403.8,277.6 402.1,248" fill="#666" stroke="#666" stroke-width="0.4" stroke-linejoin="round"/>
<path d="M404.0,277.6 L404.0,239 Q405.6,238 407.2,239 L407.2,277.6" fill="none" stroke="#111" stroke-width="1.1" stroke-linejoin="round"/>
<polygon points="407.6,277.6 411,277.6 409.3,248" fill="#666" stroke="#666" stroke-width="0.4" stroke-linejoin="round"/>
<path d="M411.2,277.6 L411.2,239 Q412.8,238 414.4,239 L414.4,277.6" fill="none" stroke="#111" stroke-width="1.1" stroke-linejoin="round"/>
<polygon points="414.8,277.6 418.2,277.6 416.5,248" fill="#666" stroke="#666" stroke-width="0.4" stroke-linejoin="round"/>
<path d="M418.4,277.6 L418.4,239 Q420.0,238 421.6,239 L421.6,277.6" fill="none" stroke="#111" stroke-width="1.1" stroke-linejoin="round"/>
<polygon points="422,277.6 425.4,277.6 423.7,248" fill="#666" stroke="#666" stroke-width="0.4" stroke-linejoin="round"/>
<path d="M425.6,277.6 L425.6,239 Q427.2,238 428.8,239 L428.8,277.6" fill="none" stroke="#111" stroke-width="1.1" stroke-linejoin="round"/>
<polygon points="429.2,277.6 432.6,277.6 430.9,248" fill="#666" stroke="#666" stroke-width="0.4" stroke-linejoin="round"/>
<path d="M432.8,277.6 L432.8,239 Q434.4,238 436.0,239 L436.0,277.6" fill="none" stroke="#111" stroke-width="1.1" stroke-linejoin="round"/>
<polygon points="436.4,277.6 439.8,277.6 438.1,248" fill="#666" stroke="#666" stroke-width="0.4" stroke-linejoin="round"/>
<path d="M440.0,277.6 L440.0,239 Q441.6,238 443.2,239 L443.2,277.6" fill="none" stroke="#111" stroke-width="1.1" stroke-linejoin="round"/>
<polygon points="443.6,277.6 447,277.6 445.3,248" fill="#666" stroke="#666" stroke-width="0.4" stroke-linejoin="round"/>
<path d="M447.2,277.6 L447.2,239 Q448.8,238 450.4,239 L450.4,277.6" fill="none" stroke="#111" stroke-width="1.1" stroke-linejoin="round"/>
<polygon points="450.8,277.6 454.2,277.6 452.5,248" fill="#666" stroke="#666" stroke-width="0.4" stroke-linejoin="round"/>
<path d="M454.4,277.6 L454.4,239 Q456.0,238 457.6,239 L457.6,277.6" fill="none" stroke="#111" stroke-width="1.1" stroke-linejoin="round"/>
<polygon points="458,277.6 461.4,277.6 459.7,248" fill="#666" stroke="#666" stroke-width="0.4" stroke-linejoin="round"/>
<path d="M461.6,277.6 L461.6,239 Q463.2,238 464.8,239 L464.8,277.6" fill="none" stroke="#111" stroke-width="1.1" stroke-linejoin="round"/>
<polygon points="465.2,277.6 468.6,277.6 466.9,248" fill="#666" stroke="#666" stroke-width="0.4" stroke-linejoin="round"/>
<path d="M468.8,277.6 L468.8,239 Q470.4,238 472.0,239 L472.0,277.6" fill="none" stroke="#111" stroke-width="1.1" stroke-linejoin="round"/>
<polygon points="472.4,277.6 475.8,277.6 474.1,248" fill="#666" stroke="#666" stroke-width="0.4" stroke-linejoin="round"/>
<path d="M476.0,277.6 L476.0,239 Q477.6,238 479.2,239 L479.2,277.6" fill="none" stroke="#111" stroke-width="1.1" stroke-linejoin="round"/>
<polygon points="479.6,277.6 483,277.6 481.3,248" fill="#666" stroke="#666" stroke-width="0.4" stroke-linejoin="round"/>
<path d="M483.2,277.6 L483.2,239 Q484.8,238 486.4,239 L486.4,277.6" fill="none" stroke="#111" stroke-width="1.1" stroke-linejoin="round"/>
<polygon points="486.8,277.6 490.2,277.6 488.5,248" fill="#666" stroke="#666" stroke-width="0.4" stroke-linejoin="round"/>
<path d="M490.4,277.6 L490.4,239 Q492.0,238 493.6,239 L493.6,277.6" fill="none" stroke="#111" stroke-width="1.1" stroke-linejoin="round"/>
<polygon points="494,277.6 497.4,277.6 495.7,248" fill="#666" stroke="#666" stroke-width="0.4" stroke-linejoin="round"/>
<polygon points="332.8,145.6 571.6,178.4 567.6,222.4 325.6,189.6" fill="none" stroke="#111" stroke-width="1.6" stroke-linejoin="round"/>
<polygon points="474.8,162.4 540.4,171.2 538,198.4 470.8,188.8" fill="none" stroke="#111" stroke-width="1.4" stroke-linejoin="round"/>
<polygon points="484,158.6 508.4,162 508.2,167 483.8,163.6" fill="#333" stroke="#111" stroke-width="1" stroke-linejoin="round"/>
<line x1="488.5" y1="160" x2="488.5" y2="165" stroke="#ccc" stroke-width="0.8"/>
<line x1="492.5" y1="160" x2="492.5" y2="165" stroke="#ccc" stroke-width="0.8"/>
<line x1="496.5" y1="160" x2="496.5" y2="165" stroke="#ccc" stroke-width="0.8"/>
<line x1="500.5" y1="160" x2="500.5" y2="165" stroke="#ccc" stroke-width="0.8"/>
<line x1="504.5" y1="160" x2="504.5" y2="165" stroke="#ccc" stroke-width="0.8"/>
<polygon points="342.4,148.6 355.2,150.4 355,153.2 342.2,151.4" fill="#555" stroke="#111" stroke-width="1" stroke-linejoin="round"/>
<polygon points="450,163.6 462.8,165.4 462.6,168.2 449.8,166.4" fill="#555" stroke="#111" stroke-width="1" stroke-linejoin="round"/>
<polygon points="547.6,177.2 560.4,179 560.2,181.8 547.4,180" fill="#555" stroke="#111" stroke-width="1" stroke-linejoin="round"/>
<path d="M766.4,178 L766.4,147.6 Q858,145 955.5,148.5 L955.5,190.3" fill="none" stroke="#111" stroke-width="1.8" stroke-linejoin="round"/>
<polyline points="767.2,153.2 858.4,150.8 858.4,146.2" fill="none" stroke="#111" stroke-width="1.3" stroke-linejoin="round"/>
<line x1="771.2" y1="190" x2="953" y2="190" stroke="#111" stroke-width="1.8"/>
<line x1="774" y1="190.3" x2="774" y2="278.8" stroke="#111" stroke-width="1.8"/>
<polyline points="953,191 949,222.5 947.6,278.4" fill="none" stroke="#111" stroke-width="1.8" stroke-linejoin="round"/>
<rect x="948.5" y="191.5" width="5" height="31" fill="#333" stroke="#111" stroke-width="0.8"/>
<rect x="776" y="268" width="172" height="11" fill="none" stroke="#111" stroke-width="1.8"/>
<line x1="784" y1="267.6" x2="784" y2="278.8" stroke="#111" stroke-width="1.6"/>
<line x1="778.5" y1="269" x2="778.5" y2="277.5" stroke="#111" stroke-width="0.8"/>
<line x1="792" y1="267.6" x2="792" y2="278.8" stroke="#111" stroke-width="1.6"/>
<line x1="786.5" y1="269" x2="786.5" y2="277.5" stroke="#111" stroke-width="0.8"/>
<line x1="800" y1="267.6" x2="800" y2="278.8" stroke="#111" stroke-width="1.6"/>
<line x1="794.5" y1="269" x2="794.5" y2="277.5" stroke="#111" stroke-width="0.8"/>
<line x1="808" y1="267.6" x2="808" y2="278.8" stroke="#111" stroke-width="1.6"/>
<line x1="802.5" y1="269" x2="802.5" y2="277.5" stroke="#111" stroke-width="0.8"/>
<line x1="816" y1="267.6" x2="816" y2="278.8" stroke="#111" stroke-width="1.6"/>
<line x1="810.5" y1="269" x2="810.5" y2="277.5" stroke="#111" stroke-width="0.8"/>
<line x1="824" y1="267.6" x2="824" y2="278.8" stroke="#111" stroke-width="1.6"/>
<line x1="818.5" y1="269" x2="818.5" y2="277.5" stroke="#111" stroke-width="0.8"/>
<line x1="832" y1="267.6" x2="832" y2="278.8" stroke="#111" stroke-width="1.6"/>
<line x1="826.5" y1="269" x2="826.5" y2="277.5" stroke="#111" stroke-width="0.8"/>
<line x1="840" y1="267.6" x2="840" y2="278.8" stroke="#111" stroke-width="1.6"/>
<line x1="834.5" y1="269" x2="834.5" y2="277.5" stroke="#111" stroke-width="0.8"/>
<line x1="848" y1="267.6" x2="848" y2="278.8" stroke="#111" stroke-width="1.6"/>
<line x1="842.5" y1="269" x2="842.5" y2="277.5" stroke="#111" stroke-width="0.8"/>
<line x1="856" y1="267.6" x2="856" y2="278.8" stroke="#111" stroke-width="1.6"/>
<line x1="850.5" y1="269" x2="850.5" y2="277.5" stroke="#111" stroke-width="0.8"/>
<line x1="864" y1="267.6" x2="864" y2="278.8" stroke="#111" stroke-width="1.6"/>
<line x1="858.5" y1="269" x2="858.5" y2="277.5" stroke="#111" stroke-width="0.8"/>
<line x1="872" y1="267.6" x2="872" y2="278.8" stroke="#111" stroke-width="1.6"/>
<line x1="866.5" y1="269" x2="866.5" y2="277.5" stroke="#111" stroke-width="0.8"/>
<line x1="880" y1="267.6" x2="880" y2="278.8" stroke="#111" stroke-width="1.6"/>
<line x1="874.5" y1="269" x2="874.5" y2="277.5" stroke="#111" stroke-width="0.8"/>
<line x1="888" y1="267.6" x2="888" y2="278.8" stroke="#111" stroke-width="1.6"/>
<line x1="882.5" y1="269" x2="882.5" y2="277.5" stroke="#111" stroke-width="0.8"/>
<line x1="896" y1="267.6" x2="896" y2="278.8" stroke="#111" stroke-width="1.6"/>
<line x1="890.5" y1="269" x2="890.5" y2="277.5" stroke="#111" stroke-width="0.8"/>
<line x1="904" y1="267.6" x2="904" y2="278.8" stroke="#111" stroke-width="1.6"/>
<line x1="898.5" y1="269" x2="898.5" y2="277.5" stroke="#111" stroke-width="0.8"/>
<line x1="912" y1="267.6" x2="912" y2="278.8" stroke="#111" stroke-width="1.6"/>
<line x1="906.5" y1="269" x2="906.5" y2="277.5" stroke="#111" stroke-width="0.8"/>
<line x1="920" y1="267.6" x2="920" y2="278.8" stroke="#111" stroke-width="1.6"/>
<line x1="914.5" y1="269" x2="914.5" y2="277.5" stroke="#111" stroke-width="0.8"/>
<line x1="928" y1="267.6" x2="928" y2="278.8" stroke="#111" stroke-width="1.6"/>
<line x1="922.5" y1="269" x2="922.5" y2="277.5" stroke="#111" stroke-width="0.8"/>
<line x1="936" y1="267.6" x2="936" y2="278.8" stroke="#111" stroke-width="1.6"/>
<line x1="930.5" y1="269" x2="930.5" y2="277.5" stroke="#111" stroke-width="0.8"/>
<line x1="944" y1="267.6" x2="944" y2="278.8" stroke="#111" stroke-width="1.6"/>
<line x1="938.5" y1="269" x2="938.5" y2="277.5" stroke="#111" stroke-width="0.8"/>
<rect x="810.5" y="268.5" width="19" height="11" fill="#888" stroke="#111" stroke-width="0.6"/>
<rect x="905.5" y="268.5" width="36" height="5" fill="#555" stroke="#111" stroke-width="0.4"/>
<polygon points="906,279 911.6,278.4 941.6,278.4 941.6,290.4 916,290.4" fill="#333" stroke="#111" stroke-width="0.8" stroke-linejoin="round"/>
<rect x="923.5" y="290.5" width="17" height="10" fill="#fff" stroke="#111" stroke-width="1.3"/>
<line x1="923.6" y1="294.5" x2="940.4" y2="294.5" stroke="#111" stroke-width="1.0"/>
<line x1="929.5" y1="300" x2="929.5" y2="324" stroke="#111" stroke-width="1.2"/>
<line x1="936.5" y1="300" x2="936.5" y2="324" stroke="#111" stroke-width="1.2"/>
<polygon points="740,213.8 773,207.2 773,222.8 744.2,225.8" fill="#fff" stroke="#111" stroke-width="1.3" stroke-linejoin="round"/>
<line x1="742.52" y1="217.4" x2="773" y2="211.88" stroke="#111" stroke-width="1.0"/>
<line x1="744.62" y1="220.4" x2="773" y2="215.78" stroke="#111" stroke-width="1.0"/>
<line x1="746.72" y1="223.4" x2="773" y2="219.68" stroke="#111" stroke-width="1.0"/>
<line x1="752" y1="212" x2="753" y2="225" stroke="#111" stroke-width="1.4"/>
<line x1="744" y1="214" x2="746" y2="225" stroke="#111" stroke-width="1.0"/>
<line x1="762" y1="210" x2="763" y2="224" stroke="#111" stroke-width="1.0"/>
<polygon points="758.6,185 760.4,181.4 767,177.8 770.6,204.8 766.4,206" fill="#fff" stroke="#111" stroke-width="1.3" stroke-linejoin="round"/>
<line x1="761.5" y1="183" x2="768" y2="206" stroke="#111" stroke-width="1.6"/>
<polygon points="738.2,192.8 758.6,185 766.4,206 743.6,213.2" fill="#fff" stroke="#111" stroke-width="1.3" stroke-linejoin="round"/>
<line x1="747.8" y1="188.8" x2="753.5" y2="210.5" stroke="#111" stroke-width="1.3"/>
<line x1="750.8" y1="188" x2="757" y2="209.5" stroke="#111" stroke-width="1.3"/>
<path d="M738.6,193.5 Q731.2,196 732.3,205 Q733.5,213 742,213.6" fill="#fff" stroke="#111" stroke-width="1.3" stroke-linejoin="round"/>
<line x1="741" y1="196" x2="744" y2="198" stroke="#111" stroke-width="2"/>
<rect x="806" y="220" width="110" height="12" rx="2" fill="none" stroke="#111" stroke-width="1.8"/>
<rect x="830.5" y="217.5" width="62" height="3" fill="none" stroke="#111" stroke-width="1.0"/>
<path d="M835.2,232.4 Q850,250 856,279" fill="none" stroke="#111" stroke-width="1.3" stroke-linejoin="round"/>
<path d="M845,232.4 L857,241.5" fill="none" stroke="#111" stroke-width="1.3" stroke-linejoin="round"/>
<path d="M877,232.4 L866,241.5" fill="none" stroke="#111" stroke-width="1.3" stroke-linejoin="round"/>
<line x1="857.5" y1="241.5" x2="857.5" y2="283" stroke="#111" stroke-width="1.3"/>
<line x1="866.5" y1="241.5" x2="866.5" y2="283" stroke="#111" stroke-width="1.3"/>
<path d="M881.3,233 C890,252 902,270 915,288 C925,302 931,314 932.5,330 L933.2,360" fill="none" stroke="#111" stroke-width="1.3" stroke-linejoin="round"/>
<path d="M890.9,233 C900,258 915,280 924,298 C928,306 930,312 931,322" fill="none" stroke="#111" stroke-width="1.3" stroke-linejoin="round"/>
<path d="M810.4,280.4 Q799,288 794.8,297.2 Q790,312 789,330 L788.2,350 L787.6,380 L789,409.9" fill="none" stroke="#111" stroke-width="1.3" stroke-linejoin="round"/>
<path d="M799.6,304.4 Q796,322 795.6,344 Q795.8,365 798,385" fill="none" stroke="#111" stroke-width="1.3" stroke-linejoin="round"/>
<line x1="809" y1="281.5" x2="819.5" y2="299" stroke="#111" stroke-width="1.3"/>
<line x1="813" y1="280.5" x2="823" y2="297" stroke="#111" stroke-width="1.3"/>
<line x1="795" y1="297.5" x2="811" y2="305.5" stroke="#111" stroke-width="1.3"/>
<line x1="795" y1="301" x2="810" y2="308.5" stroke="#111" stroke-width="1.3"/>
<circle cx="861.4" cy="348.4" r="65" fill="none" stroke="#111" stroke-width="1.5"/>
<circle cx="861.4" cy="348.4" r="52" fill="none" stroke="#111" stroke-width="1.4"/>
<circle cx="861.4" cy="348.4" r="40" fill="none" stroke="#111" stroke-width="1.4"/>
<circle cx="861.4" cy="348.4" r="12" fill="none" stroke="#111" stroke-width="1.4"/>
<line x1="788" y1="348.5" x2="879.4" y2="348.5" stroke="#111" stroke-width="1.2" stroke-dasharray="28 3 5 3"/>
<circle cx="824.7" cy="311.7" r="7.8" fill="#fff" stroke="#111" stroke-width="1.4"/>
<line x1="821.7" y1="314.2" x2="827.7" y2="309.2" stroke="#111" stroke-width="1.1"/>
<circle cx="898.1" cy="311.7" r="7.8" fill="#fff" stroke="#111" stroke-width="1.4"/>
<line x1="895.1" y1="314.2" x2="901.1" y2="309.2" stroke="#111" stroke-width="1.1"/>
<circle cx="824.7" cy="385.1" r="7.8" fill="#fff" stroke="#111" stroke-width="1.4"/>
<line x1="821.7" y1="387.6" x2="827.7" y2="382.6" stroke="#111" stroke-width="1.1"/>
<circle cx="898.1" cy="385.1" r="7.8" fill="#fff" stroke="#111" stroke-width="1.4"/>
<line x1="895.1" y1="387.6" x2="901.1" y2="382.6" stroke="#111" stroke-width="1.1"/>
<path d="M767,313 Q770,311 775,312.5 L789.5,322.5 Q791.5,325 790.5,328 L788,342 Q786,344 783,342.5 L770,330 Q765,325 765.5,318 Z" fill="#fff" stroke="#111" stroke-width="1.4" stroke-linejoin="round"/>
<path d="M771,318.5 Q773,316 777,318.5 L784,326 Q787,331 785,336 Q782,338 779,334 L772,326 Q769,322 771,318.5 Z" fill="none" stroke="#111" stroke-width="1.5" stroke-linejoin="round"/>
<path d="M768,315.5 Q771,313.5 775,315 L789,324.5" fill="none" stroke="#111" stroke-width="1.1" stroke-linejoin="round"/>
<path d="M774,321 L781,330 Q783,333 782,335" fill="none" stroke="#111" stroke-width="1.1" stroke-linejoin="round"/>
<path d="M956,313 Q953,311 948,312.5 L933.5,322.5 Q931.5,325 932.5,328 L935,342 Q937,344 940,342.5 L953,330 Q958,325 957.5,318 Z" fill="#fff" stroke="#111" stroke-width="1.4" stroke-linejoin="round"/>
<path d="M952,318.5 Q950,316 946,318.5 L939,326 Q936,331 938,336 Q941,338 944,334 L951,326 Q954,322 952,318.5 Z" fill="none" stroke="#111" stroke-width="1.5" stroke-linejoin="round"/>
<path d="M955,315.5 Q952,313.5 948,315 L934,324.5" fill="none" stroke="#111" stroke-width="1.1" stroke-linejoin="round"/>
<path d="M949,321 L942,330 Q940,333 941,335" fill="none" stroke="#111" stroke-width="1.1" stroke-linejoin="round"/>
<rect x="763" y="444" width="41" height="12" fill="none" stroke="#111" stroke-width="1.8"/>
<rect x="918" y="444" width="42" height="12" fill="none" stroke="#111" stroke-width="1.8"/>
<line x1="777.5" y1="444.5" x2="777.5" y2="460" stroke="#111" stroke-width="1.0"/>
<line x1="782.5" y1="444.5" x2="782.5" y2="460" stroke="#111" stroke-width="1.0"/>
<line x1="788.5" y1="444.5" x2="788.5" y2="460" stroke="#111" stroke-width="1.0"/>
<line x1="933.5" y1="444.5" x2="933.5" y2="460" stroke="#111" stroke-width="1.0"/>
<line x1="939.5" y1="444.5" x2="939.5" y2="460" stroke="#111" stroke-width="1.0"/>
<line x1="944.5" y1="444.5" x2="944.5" y2="460" stroke="#111" stroke-width="1.0"/>
<path d="M804.3,444.5 Q861,402 917.7,444.5" fill="none" stroke="#111" stroke-width="1.8" stroke-linejoin="round"/>
<path d="M806,454 Q861,410 916,454" fill="none" stroke="#111" stroke-width="1.8" stroke-linejoin="round"/>
<line x1="787.5" y1="413.5" x2="934.5" y2="413.5" stroke="#111" stroke-width="1.3"/>
<rect x="853.5" y="413.5" width="15" height="10" fill="none" stroke="#111" stroke-width="1.3"/>
<path d="M770.7,444.5 Q775,425 788.6,409.9 Q796,396 805.4,384.7" fill="none" stroke="#111" stroke-width="1.3" stroke-linejoin="round"/>
<path d="M952.4,444.5 Q948,425 933.5,410 Q927,396 920.9,384.7" fill="none" stroke="#111" stroke-width="1.3" stroke-linejoin="round"/>
<line x1="861.5" y1="212" x2="861.5" y2="420" stroke="#111" stroke-width="1.2" stroke-dasharray="30 3 5 3"/>
<line x1="861.5" y1="420" x2="861.5" y2="502" stroke="#111" stroke-width="1.2"/>
<path d="M153.6,654.6 L153.6,622 Q153.6,614 161.6,614 L226.8,614 Q234.8,614 234.8,622 L234.8,654.6" fill="none" stroke="#111" stroke-width="1.8" stroke-linejoin="round"/>
<line x1="153.6" y1="655" x2="234.8" y2="655" stroke="#111" stroke-width="2.2"/>
<path d="M153.6,629.4 L166,629.4 A4.9,4.9 0 0 1 166,639.2 L153.6,639.2" fill="#fff" stroke="#111" stroke-width="1.3" stroke-linejoin="round"/>
<path d="M234.8,629.4 L221.5,629.4 A4.9,4.9 0 0 0 221.5,639.2 L234.8,639.2" fill="#fff" stroke="#111" stroke-width="1.3" stroke-linejoin="round"/>
<path d="M154.3,768.6 L154.3,800.5 Q154.3,808.5 162.3,808.5 L226.1,808.5 Q234.1,808.5 234.1,800.5 L234.1,768.6" fill="none" stroke="#111" stroke-width="1.8" stroke-linejoin="round"/>
<line x1="154.3" y1="769" x2="234.1" y2="769" stroke="#111" stroke-width="2.0"/>
<path d="M154.3,784 L166,784 A4.9,4.9 0 0 1 166,793.8 L154.3,793.8" fill="#fff" stroke="#111" stroke-width="1.3" stroke-linejoin="round"/>
<path d="M234.1,784 L221.5,784 A4.9,4.9 0 0 0 221.5,793.8 L234.1,793.8" fill="#fff" stroke="#111" stroke-width="1.3" stroke-linejoin="round"/>
<path d="M154,654.6 Q160,711 154.3,768.6" fill="none" stroke="#111" stroke-width="1.3" stroke-linejoin="round"/>
<path d="M233.5,654.6 Q228,711 233.5,768.6" fill="none" stroke="#111" stroke-width="1.3" stroke-linejoin="round"/>
<line x1="234.5" y1="639" x2="234.5" y2="782.5" stroke="#111" stroke-width="1.3"/>
<path d="M176.7,656 C177,636 185,625 194.2,625 C203,625 211,636 211.7,656 L215.8,700 L215.2,742 C214,770 205,796.6 194,796.6 C183,796.6 177,770 176.5,742 L176,700 Z" fill="none" stroke="#111" stroke-width="1.8" stroke-linejoin="round"/>
<path d="M180.2,667.2 C181,645 188,633.6 195.6,633.6 C203,633.6 210,645 211,667.2" fill="none" stroke="#111" stroke-width="1.3" stroke-linejoin="round"/>
<line x1="178" y1="668.5" x2="212.5" y2="668.5" stroke="#111" stroke-width="1.3"/>
<line x1="177.5" y1="673" x2="213.5" y2="673" stroke="#111" stroke-width="1.8"/>
<line x1="176.5" y1="738" x2="215.2" y2="738" stroke="#111" stroke-width="1.8"/>
<line x1="176.5" y1="742.5" x2="215.2" y2="742.5" stroke="#111" stroke-width="1.3"/>
<path d="M178.8,744.8 C181,765 186,785.4 193,785.4 C200,785.4 207,765 210.3,744.8" fill="none" stroke="#111" stroke-width="1.3" stroke-linejoin="round"/>
<line x1="189.69" y1="703.97" x2="175.95" y2="685.27" stroke="#111" stroke-width="1.3"/>
<line x1="194.64" y1="699.91" x2="179.05" y2="682.73" stroke="#111" stroke-width="1.3"/>
<line x1="197.93" y1="699.92" x2="213.45" y2="682.74" stroke="#111" stroke-width="1.3"/>
<line x1="202.9" y1="703.96" x2="216.55" y2="685.26" stroke="#111" stroke-width="1.3"/>
<line x1="194.5" y1="713.59" x2="178.96" y2="728.37" stroke="#111" stroke-width="1.3"/>
<line x1="189.83" y1="709.21" x2="176.04" y2="725.63" stroke="#111" stroke-width="1.3"/>
<line x1="202.75" y1="709.21" x2="216.46" y2="725.63" stroke="#111" stroke-width="1.3"/>
<line x1="198.08" y1="713.59" x2="213.54" y2="728.37" stroke="#111" stroke-width="1.3"/>
<path d="M190.5,702 Q194,707 190.5,712" fill="none" stroke="#111" stroke-width="1.2" stroke-linejoin="round"/>
<path d="M202.1,702 Q198.6,707 202.1,712" fill="none" stroke="#111" stroke-width="1.2" stroke-linejoin="round"/>
<circle cx="196.3" cy="654.6" r="10.5" fill="none" stroke="#111" stroke-width="1.2"/>
<circle cx="196.3" cy="654.6" r="5.2" fill="#fff" stroke="#111" stroke-width="2.6"/>
<line x1="193.8" y1="654.5" x2="198.8" y2="654.5" stroke="#111" stroke-width="0.8"/>
<line x1="196.5" y1="652.1" x2="196.5" y2="657.1" stroke="#111" stroke-width="0.8"/>
<circle cx="196.3" cy="729.4" r="5.2" fill="#fff" stroke="#111" stroke-width="2.6"/>
<line x1="193.8" y1="729.5" x2="198.8" y2="729.5" stroke="#111" stroke-width="0.8"/>
<line x1="196.5" y1="726.9" x2="196.5" y2="731.9" stroke="#111" stroke-width="0.8"/>
<circle cx="196.3" cy="759.5" r="10" fill="none" stroke="#111" stroke-width="1.2"/>
<circle cx="196.3" cy="759.5" r="5.2" fill="#fff" stroke="#111" stroke-width="2.6"/>
<line x1="193.8" y1="759.5" x2="198.8" y2="759.5" stroke="#111" stroke-width="0.8"/>
<line x1="196.5" y1="757" x2="196.5" y2="762" stroke="#111" stroke-width="0.8"/>
<line x1="184" y1="729.5" x2="209" y2="729.5" stroke="#111" stroke-width="1.4"/>
<line x1="183" y1="759.5" x2="212" y2="759.5" stroke="#111" stroke-width="1.0"/>
<line x1="196.5" y1="622" x2="196.5" y2="800" stroke="#444" stroke-width="1.0" stroke-dasharray="20 3 4 3"/>
<line x1="104" y1="711.5" x2="224" y2="711.5" stroke="#111" stroke-width="1.1" stroke-dasharray="40 3 6 3"/>
<rect x="132" y="646" width="12" height="130" rx="2" fill="none" stroke="#111" stroke-width="1.8"/>
<line x1="128" y1="663" x2="128" y2="753" stroke="#111" stroke-width="2.2"/>
<line x1="144.2" y1="667.5" x2="153.6" y2="667.5" stroke="#111" stroke-width="1.3"/>
<line x1="144.2" y1="754.5" x2="154.3" y2="754.5" stroke="#111" stroke-width="1.3"/>
<path d="M144.5,702 Q153.5,702.5 155.5,711.3 Q153.5,720 144.5,720.5" fill="none" stroke="#111" stroke-width="1.3" stroke-linejoin="round"/>
<circle cx="143.8" cy="711.3" r="3.5" fill="none" stroke="#111" stroke-width="1.2"/>
<line x1="252" y1="639.2" x2="252" y2="782.5" stroke="#111" stroke-width="2.2"/>
<rect x="235.5" y="639.5" width="17" height="4" fill="none" stroke="#111" stroke-width="1.0"/>
<path d="M232,660 Q229,711 232,765" fill="none" stroke="#111" stroke-width="1.0" stroke-linejoin="round"/>
<path d="M253,667 Q258.6,670 258.6,678 L258.6,745 Q258.6,752 253,756" fill="none" stroke="#111" stroke-width="1.3" stroke-linejoin="round"/>
<polyline points="252.3,646.2 297.8,651.8" fill="none" stroke="#111" stroke-width="1.3" stroke-linejoin="round"/>
<polyline points="252.3,775.5 297.8,771" fill="none" stroke="#111" stroke-width="1.3" stroke-linejoin="round"/>
<polyline points="252.3,641 256,646.6 252.3,646.6" fill="none" stroke="#111" stroke-width="1.0" stroke-linejoin="round"/>
<circle cx="260.7" cy="711.3" r="5.6" fill="none" stroke="#111" stroke-width="1.3"/>
<circle cx="260.7" cy="711.3" r="2.5" fill="none" stroke="#111" stroke-width="1.0"/>
<rect x="297.5" y="643.5" width="6" height="136" fill="none" stroke="#111" stroke-width="1.3"/>
<rect x="303.5" y="648.5" width="6" height="126" fill="none" stroke="#111" stroke-width="1.3"/>
<rect x="297.5" y="643.5" width="31" height="5" fill="none" stroke="#111" stroke-width="1.3"/>
<rect x="297.5" y="774.5" width="31" height="5" fill="none" stroke="#111" stroke-width="1.3"/>
<line x1="295.5" y1="682.6" x2="295.5" y2="740" stroke="#111" stroke-width="1.3"/>
<circle cx="308.3" cy="711.3" r="3.5" fill="none" stroke="#111" stroke-width="1.2"/>
<rect x="309.5" y="653.5" width="8" height="18" fill="none" stroke="#111" stroke-width="1.3"/>
<rect x="309.5" y="751.5" width="8" height="18" fill="none" stroke="#111" stroke-width="1.3"/>
<rect x="317.5" y="663.5" width="11" height="14" fill="none" stroke="#111" stroke-width="1.0"/>
<rect x="317.5" y="745.5" width="11" height="14" fill="none" stroke="#111" stroke-width="1.0"/>
<path d="M313,638 L324,619.5 Q326,617 330,617 L340,617.5 Q345,618.5 344,623 L332,643 Q330,646 326,646 L316,646 Q312,644 313,638 Z" fill="#fff" stroke="#111" stroke-width="1.5" stroke-linejoin="round"/>
<path d="M319,636 L327,623.5 Q329,621 332,622 Q335,624 333,628 L326,640 Q323,642 320,641 Q317,639 319,636 Z" fill="none" stroke="#111" stroke-width="1.2" stroke-linejoin="round"/>
<path d="M313,785 L324,803.5 Q326,806 330,806 L340,805.5 Q345,804.5 344,800 L332,780 Q330,777 326,777 L316,777 Q312,779 313,785 Z" fill="#fff" stroke="#111" stroke-width="1.5" stroke-linejoin="round"/>
<path d="M319,787 L327,799.5 Q329,802 332,801 Q335,799 333,795 L326,783 Q323,781 320,782 Q317,784 319,787 Z" fill="none" stroke="#111" stroke-width="1.2" stroke-linejoin="round"/>
<rect x="328.5" y="648.5" width="36" height="131" fill="none" stroke="#111" stroke-width="1.3"/>
<line x1="328.6" y1="677" x2="364" y2="677" stroke="#111" stroke-width="2.2"/>
<line x1="328.6" y1="685" x2="364" y2="685" stroke="#111" stroke-width="2.2"/>
<line x1="328.6" y1="694" x2="364" y2="694" stroke="#111" stroke-width="2.2"/>
<line x1="328.6" y1="703" x2="364" y2="703" stroke="#111" stroke-width="2.2"/>
<line x1="328.6" y1="711" x2="364" y2="711" stroke="#111" stroke-width="2.2"/>
<line x1="328.6" y1="720" x2="364" y2="720" stroke="#111" stroke-width="2.2"/>
<line x1="328.6" y1="729" x2="364" y2="729" stroke="#111" stroke-width="2.2"/>
<line x1="328.6" y1="736" x2="364" y2="736" stroke="#111" stroke-width="2.2"/>
<line x1="328.6" y1="745" x2="364" y2="745" stroke="#111" stroke-width="2.2"/>
<rect x="364" y="645" width="200" height="134" fill="none" stroke="#111" stroke-width="1.8"/>
<line x1="364" y1="652.5" x2="563.5" y2="652.5" stroke="#111" stroke-width="1.3"/>
<line x1="364" y1="770.5" x2="563.5" y2="770.5" stroke="#111" stroke-width="1.3"/>
<line x1="495.5" y1="644.8" x2="495.5" y2="779" stroke="#111" stroke-width="1.3"/>
<line x1="345" y1="616" x2="568.8" y2="616" stroke="#111" stroke-width="1.8"/>
<line x1="568" y1="616.5" x2="568" y2="805" stroke="#111" stroke-width="2.4"/>
<line x1="345" y1="805" x2="568.8" y2="805" stroke="#111" stroke-width="1.8"/>
<line x1="352" y1="621.5" x2="560.4" y2="621.5" stroke="#111" stroke-width="1.4"/>
<line x1="352" y1="625.5" x2="560.4" y2="625.5" stroke="#111" stroke-width="1.0"/>
<line x1="352" y1="633.5" x2="560.4" y2="633.5" stroke="#111" stroke-width="1.4"/>
<line x1="352" y1="642.5" x2="560.4" y2="642.5" stroke="#111" stroke-width="1.4"/>
<line x1="352" y1="626" x2="496" y2="626" stroke="#111" stroke-width="2.2" stroke-dasharray="2 2.5"/>
<line x1="348" y1="781.5" x2="560.4" y2="781.5" stroke="#111" stroke-width="1.4"/>
<line x1="348" y1="785.5" x2="560.4" y2="785.5" stroke="#111" stroke-width="1.4"/>
<line x1="348" y1="793.5" x2="560.4" y2="793.5" stroke="#111" stroke-width="1.4"/>
<line x1="348" y1="797.5" x2="560.4" y2="797.5" stroke="#111" stroke-width="1.4"/>
<line x1="348" y1="800.5" x2="560.4" y2="800.5" stroke="#111" stroke-width="1.4"/>
<line x1="554.5" y1="621" x2="554.5" y2="644.8" stroke="#111" stroke-width="1.2"/>
<line x1="554.5" y1="779" x2="554.5" y2="800.5" stroke="#111" stroke-width="1.2"/>
<line x1="557.5" y1="621" x2="557.5" y2="644.8" stroke="#111" stroke-width="1.2"/>
<line x1="557.5" y1="779" x2="557.5" y2="800.5" stroke="#111" stroke-width="1.2"/>
<line x1="560.5" y1="621" x2="560.5" y2="644.8" stroke="#111" stroke-width="1.2"/>
<line x1="560.5" y1="779" x2="560.5" y2="800.5" stroke="#111" stroke-width="1.2"/>
<rect x="468.5" y="614.5" width="69" height="4" fill="none" stroke="#111" stroke-width="1.2"/>
<rect x="355.5" y="632.5" width="11" height="13" rx="2" fill="none" stroke="#111" stroke-width="1.3"/>
<circle cx="360.3" cy="638.5" r="3.2" fill="none" stroke="#111" stroke-width="1.5"/>
<rect x="394.5" y="780.5" width="27" height="18" fill="#fff" stroke="#111" stroke-width="1.3"/>
<line x1="398.5" y1="780" x2="398.5" y2="798" stroke="#111" stroke-width="1.2"/>
<line x1="402.5" y1="780" x2="402.5" y2="798" stroke="#111" stroke-width="1.2"/>
<line x1="406.5" y1="780" x2="406.5" y2="798" stroke="#111" stroke-width="1.2"/>
<line x1="410.5" y1="780" x2="410.5" y2="798" stroke="#111" stroke-width="1.2"/>
<line x1="414.5" y1="780" x2="414.5" y2="798" stroke="#111" stroke-width="1.2"/>
<line x1="418.5" y1="780" x2="418.5" y2="798" stroke="#111" stroke-width="1.2"/>
<rect x="440.5" y="790.5" width="18" height="10" fill="none" stroke="#111" stroke-width="1.0"/>
<rect x="349.5" y="799.5" width="22" height="7" fill="#fff" stroke="#111" stroke-width="1.3"/>
<path d="M347.9,806.8 L347.9,827.525 Q350.45,839 360.65,839 Q370.84999999999997,839 373.4,827.525 L373.4,806.8" fill="#fff" stroke="#111" stroke-width="1.5" stroke-linejoin="round"/>
<line x1="347.9" y1="815" x2="373.4" y2="815" stroke="#111" stroke-width="1.8"/>
<line x1="347.9" y1="819.5" x2="373.4" y2="819.5" stroke="#111" stroke-width="1.2"/>
<line x1="347.9" y1="824" x2="373.4" y2="824" stroke="#111" stroke-width="1.8"/>
<line x1="347.9" y1="828.5" x2="373.4" y2="828.5" stroke="#111" stroke-width="1.0"/>
<rect x="388.5" y="799.5" width="18" height="7" fill="#fff" stroke="#111" stroke-width="1.3"/>
<path d="M387,806 L387,826.1600000000001 Q389.12,835.7 397.6,835.7 Q406.08,835.7 408.2,826.1600000000001 L408.2,806" fill="#fff" stroke="#111" stroke-width="1.5" stroke-linejoin="round"/>
<line x1="387" y1="813" x2="408.2" y2="813" stroke="#111" stroke-width="1.8"/>
<line x1="387" y1="817.5" x2="408.2" y2="817.5" stroke="#111" stroke-width="1.2"/>
<line x1="387" y1="822" x2="408.2" y2="822" stroke="#111" stroke-width="1.8"/>
<line x1="387" y1="825.5" x2="408.2" y2="825.5" stroke="#111" stroke-width="1.0"/>
<rect x="423.5" y="799.5" width="14" height="7" fill="#fff" stroke="#111" stroke-width="1.3"/>
<path d="M421.8,806 L421.8,824.65 Q423.5,832.3 430.3,832.3 Q437.1,832.3 438.8,824.65 L438.8,806" fill="#fff" stroke="#111" stroke-width="1.5" stroke-linejoin="round"/>
<line x1="421.8" y1="812" x2="438.8" y2="812" stroke="#111" stroke-width="1.8"/>
<line x1="421.8" y1="815.5" x2="438.8" y2="815.5" stroke="#111" stroke-width="1.2"/>
<line x1="421.8" y1="820" x2="438.8" y2="820" stroke="#111" stroke-width="1.8"/>
<line x1="421.8" y1="823.5" x2="438.8" y2="823.5" stroke="#111" stroke-width="1.0"/>
<rect x="453.5" y="799.5" width="13" height="7" fill="#fff" stroke="#111" stroke-width="1.3"/>
<path d="M451.6,806 L451.6,825.055 Q453.21000000000004,832.3 459.65,832.3 Q466.09,832.3 467.7,825.055 L467.7,806" fill="#fff" stroke="#111" stroke-width="1.5" stroke-linejoin="round"/>
<line x1="451.6" y1="812" x2="467.7" y2="812" stroke="#111" stroke-width="1.8"/>
<line x1="451.6" y1="815.5" x2="467.7" y2="815.5" stroke="#111" stroke-width="1.2"/>
<line x1="451.6" y1="820" x2="467.7" y2="820" stroke="#111" stroke-width="1.8"/>
<line x1="451.6" y1="823.5" x2="467.7" y2="823.5" stroke="#111" stroke-width="1.0"/>
<rect x="482.5" y="799.5" width="10" height="7" fill="#fff" stroke="#111" stroke-width="1.3"/>
<path d="M480.5,806 L480.5,823.625 Q481.85,829.7 487.25,829.7 Q492.65,829.7 494,823.625 L494,806" fill="#fff" stroke="#111" stroke-width="1.5" stroke-linejoin="round"/>
<line x1="480.5" y1="811" x2="494" y2="811" stroke="#111" stroke-width="1.8"/>
<line x1="480.5" y1="814.5" x2="494" y2="814.5" stroke="#111" stroke-width="1.2"/>
<line x1="480.5" y1="818" x2="494" y2="818" stroke="#111" stroke-width="1.8"/>
<line x1="480.5" y1="821.5" x2="494" y2="821.5" stroke="#111" stroke-width="1.0"/>
</svg></body></html>
